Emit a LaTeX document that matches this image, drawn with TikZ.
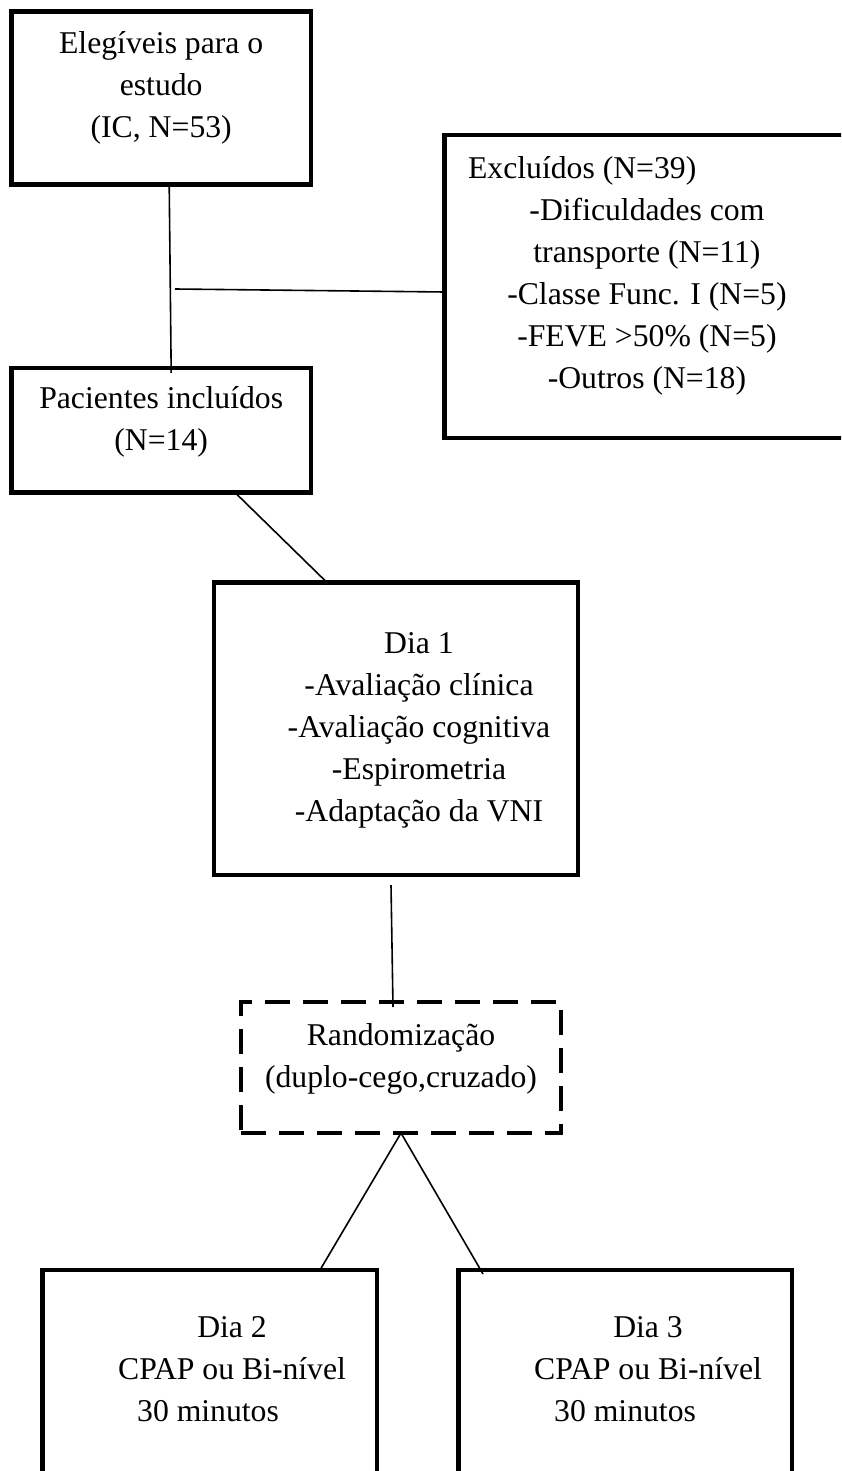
\documentclass[tikz,border=0pt]{standalone}
\usepackage{fontspec}
\setmainfont{Liberation Serif}
\usepackage{tikz}
\usetikzlibrary{positioning}
\tikzstyle{block} = [draw, rectangle, line width=2.2pt, outer sep=0pt, inner sep=0pt, font=\fontsize{15.85pt}{21pt}\selectfont]
\tikzstyle{dashblock} = [block, dash pattern=on 12.5pt off 6.5pt]
\tikzstyle{link} = [line width=0.8pt]
\tikzstyle{coord} = [coordinate]

\begin{document}
\begin{tikzpicture}
	\useasboundingbox (0,0) rectangle (420.5pt,-735.5pt);
	\clip (0,0) rectangle (420.5pt,-735.5pt);

	\node [block, minimum width=149.75pt, minimum height=86.5pt] (elegiveis) at (80.6pt,-49pt)
		{\begin{tabular}{c}Elegíveis para o\\estudo\\(IC, N=53)\\[10.5pt]\end{tabular}};
	\node [block, minimum width=149.75pt, minimum height=62.25pt, below=91.75pt of elegiveis] (incluidos)
		{\begin{tabular}{c}Pacientes incluídos\\(N=14)\\[9.25pt]\end{tabular}};
	\node [block, minimum width=212.75pt, minimum height=151.5pt, right=66.75pt of elegiveis, yshift=-94.25pt] (excluidos)
		{\begin{tabular}{@{}c@{\hspace{10.25pt}}}\hspace*{-64.75pt}Excluídos (N=39)\\-Dificuldades com\\transporte (N=11)\\-Classe Func. I (N=5)\\-FEVE >50\% (N=5)\\-Outros (N=18)\\[11.5pt]\end{tabular}};
	\node [block, minimum width=182pt, minimum height=146.25pt, below=45pt of incluidos, xshift=117.4pt] (dia1)
		{\begin{tabular}{@{\hspace{23pt}}c@{}}Dia 1\\-Avaliação clínica\\-Avaliação cognitiva\\-Espirometria\\-Adaptação da VNI\end{tabular}};
	\node [dashblock, minimum width=160pt, minimum height=65.5pt, below=63.5pt of dia1, xshift=2.5pt] (rand)
		{\begin{tabular}{c}Randomização\\(duplo-cego,cruzado)\\[9pt]\end{tabular}};
	\node [block, minimum width=167.25pt, minimum height=105pt, below=68.5pt of rand, xshift=-95.6pt] (dia2)
		{\begin{tabular}{@{\hspace{22.25pt}}c@{}}Dia 2\\CPAP ou Bi-nível\\\hspace*{-24pt}30 minutos\\[3.5pt]\end{tabular}};
	\node [block, minimum width=166.7pt, minimum height=105pt, right=40.65pt of dia2] (dia3)
		{\begin{tabular}{@{\hspace{23pt}}c@{}}Dia 3\\CPAP ou Bi-nível\\\hspace*{-23pt}30 minutos\\[3.5pt]\end{tabular}};
	\node [coord] (juncao) at ([xshift=6.9pt, yshift=-52.25pt]elegiveis.south) {};

	\draw [link] ([xshift=4pt]elegiveis.south) -- ([xshift=5pt, yshift=-2.5pt]incluidos.north);
	\draw [link] (juncao) -- ([yshift=-2.75pt]excluidos.west);
	\draw [link] ([xshift=36.9pt]incluidos.south) -- ([xshift=-34.5pt]dia1.north);
	\draw [link] ([xshift=-2.5pt, yshift=-5pt]dia1.south) -- ([xshift=-4pt, yshift=-2.5pt]rand.north);
	\draw [link] (rand.south) -- ([xshift=55.1pt]dia2.north);
	\draw [link] (rand.south) -- ([xshift=-71pt, yshift=-2pt]dia3.north);
\end{tikzpicture}
\end{document}
